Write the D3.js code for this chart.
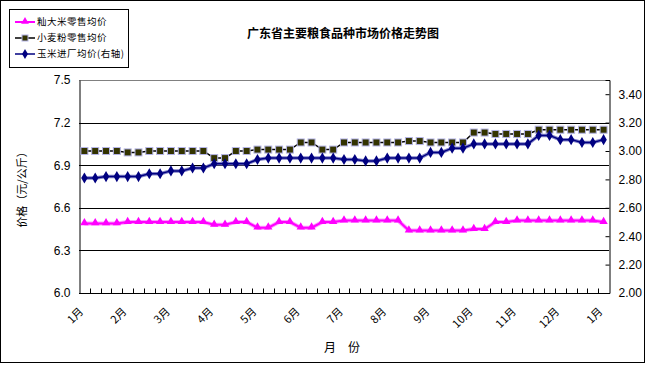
<!DOCTYPE html>
<html><head><meta charset="utf-8">
<script src="https://cdn.jsdelivr.net/npm/d3@7"></script>
<style>body{margin:0;background:#fff}svg{display:block}</style>
</head><body>
<svg id="c" width="649" height="365"></svg>
<script>
// ---- data ----
const monthLabels = ["1月","2月","3月","4月","5月","6月","7月","8月","9月","10月","11月","12月","1月"];
const rice = [6.49,6.49,6.49,6.49, 6.50,6.50,6.50,6.50,6.50,6.50,6.50,6.50, 6.48,6.48, 6.50,6.50, 6.46,6.46, 6.50,6.50, 6.46,6.46, 6.50,6.50,
  6.51,6.51,6.51,6.51,6.51,6.51, 6.44,6.44,6.44,6.44,6.44,6.44, 6.45,6.45, 6.50,6.50, 6.51,6.51,6.51,6.51,6.51,6.51,6.51,6.51, 6.50];
const flour = [7.00,7.00,7.00,7.00, 6.99,6.99, 7.00,7.00,7.00,7.00,7.00,7.00, 6.95,6.95, 7.00,7.00, 7.01,7.01,7.01,7.01, 7.06,7.06, 7.01,7.01,
  7.06,7.06,7.06,7.06,7.06,7.06, 7.07,7.07, 7.06,7.06,7.06,7.06, 7.13,7.13, 7.12,7.12,7.12,7.12, 7.15,7.15,7.15,7.15,7.15,7.15,7.15];
const corn = [2.81,2.81, 2.82,2.82,2.82,2.82, 2.84,2.84, 2.86,2.86, 2.88,2.88, 2.91,2.91,2.91,2.91, 2.94, 2.95,2.95,2.95,2.95,2.95,2.95,2.95,
  2.94,2.94, 2.93,2.93, 2.95,2.95,2.95,2.95, 2.99,2.99, 3.02,3.02, 3.05,3.05,3.05,3.05,3.05,3.05, 3.11,3.11, 3.08,3.08, 3.06,3.06, 3.08];
const leftTicks = [6.0,6.3,6.6,6.9,7.2,7.5];
const rightTicks = [2.0,2.2,2.4,2.6,2.8,3.0,3.2,3.4];
const seriesNames = ["籼大米零售均价","小麦粉零售均价","玉米进厂均价(右轴)"];
const chartTitle = "广东省主要粮食品种市场价格走势图";
const yTitle = "价格（元/公斤）";
const xTitle = "月　份";

// ---- layout ----
const L = 79, R = 609, T = 80, B = 293;
const svg = d3.select("#c");
const FONT = "'Noto Sans CJK SC','Liberation Sans',sans-serif";
const idx = d3.range(rice.length);
const x = d3.scaleBand().domain(idx).range([L, R]).padding(0);
const cx = i => x(i) + x.bandwidth() / 2;
const yL = d3.scaleLinear().domain([6.0, 7.5]).range([B, T]);
const yR = d3.scaleLinear().domain([2.0, 3.5]).range([B, T]);

// outer frame
svg.append("rect").attr("x", 0.5).attr("y", 0.5).attr("width", 644).attr("height", 362)
  .attr("fill", "#fff").attr("stroke", "#000").attr("stroke-width", 1);

// gridlines
svg.append("g").selectAll("line").data(leftTicks.filter(v => v > 6.0))
  .join("line")
  .attr("x1", L).attr("x2", R)
  .attr("y1", d => Math.round(yL(d)) + 0.5).attr("y2", d => Math.round(yL(d)) + 0.5)
  .attr("stroke", d => d === 7.5 ? "#808080" : "#000").attr("stroke-width", 1);

// left axis (labels only + line)
const gL = svg.append("g").attr("transform", `translate(${L + 0.5},0)`)
  .call(d3.axisLeft(yL).tickValues(leftTicks).tickFormat(d3.format(".1f")).tickSize(0).tickPadding(9));
gL.select(".domain").attr("stroke", "#000");
gL.selectAll("text").attr("font-family", "'Liberation Sans',sans-serif").attr("font-size", 12).attr("fill", "#000");

// right axis
const gR = svg.append("g").attr("transform", `translate(${R + 0.5},0)`)
  .call(d3.axisRight(yR).tickValues(rightTicks).tickFormat(d3.format(".2f")).tickSize(-4).tickPadding(9));
gR.select(".domain").attr("stroke", "#000");
gR.selectAll("line").attr("stroke", "#000");
gR.selectAll("text").attr("font-family", "'Liberation Sans',sans-serif").attr("font-size", 12).attr("fill", "#000");

// bottom axis: ticks at band boundaries pointing up
const gB = svg.append("g").attr("transform", `translate(0,${B + 0.5})`);
gB.append("line").attr("x1", L).attr("x2", R + 1).attr("stroke", "#000");
gB.selectAll("line.tk").data(idx.slice(1)).join("line").attr("class", "tk")
  .attr("x1", d => Math.round(x(d)) + 0.5).attr("x2", d => Math.round(x(d)) + 0.5)
  .attr("y1", 0).attr("y2", -5).attr("stroke", "#000");
// month labels every 4 categories
gB.selectAll("text").data(monthLabels).join("text")
  .attr("transform", (d, k) => `translate(${cx(k * 4) - 3},${16}) rotate(-45)`)
  .attr("text-anchor", "end").attr("dy", "0.35em")
  .attr("font-family", FONT).attr("font-size", 11).attr("fill", "#000")
  .text(d => d);

// series
const lineL = d3.line().x((d, i) => cx(i)).y(d => yL(d));
const lineR = d3.line().x((d, i) => cx(i)).y(d => yR(d));

// rice
svg.append("path").attr("d", lineL(rice)).attr("fill", "none").attr("stroke", "#ff99ff").attr("stroke-width", 4);
svg.append("path").attr("d", lineL(rice)).attr("fill", "none").attr("stroke", "#ff00ff").attr("stroke-width", 2);
svg.append("g").selectAll("path").data(rice).join("path")
  .attr("d", d3.symbol(d3.symbolTriangle, 30)())
  .attr("transform", (d, i) => `translate(${cx(i)},${yL(d) - 0.5})`)
  .attr("fill", "#ff00ff");

// flour
svg.append("path").attr("d", lineL(flour)).attr("fill", "none").attr("stroke", "#000").attr("stroke-width", 1.5);
svg.append("g").selectAll("rect").data(flour).join("rect")
  .attr("x", (d, i) => cx(i) - 3.5).attr("y", d => yL(d) - 3.5)
  .attr("width", 7).attr("height", 7)
  .attr("fill", "#333300").attr("stroke", "#b4b4e6").attr("stroke-width", 1);

// corn
svg.append("path").attr("d", lineR(corn)).attr("fill", "none").attr("stroke", "#8080c8").attr("stroke-width", 3.5);
svg.append("path").attr("d", lineR(corn)).attr("fill", "none").attr("stroke", "#000080").attr("stroke-width", 1.5);
svg.append("g").selectAll("path").data(corn).join("path")
  .attr("d", d3.symbol(d3.symbolDiamond, 36)())
  .attr("transform", (d, i) => `translate(${cx(i)},${yR(d)})`)
  .attr("fill", "#000080");

// title
svg.append("text").attr("x", 343).attr("y", 38).attr("text-anchor", "middle")
  .attr("font-family", FONT).attr("font-size", 12).attr("font-weight", "bold").attr("fill", "#000")
  .text(chartTitle);

// y title
svg.append("text").attr("transform", "translate(26,187) rotate(-90)").attr("text-anchor", "middle")
  .attr("font-family", FONT).attr("font-size", 11).attr("fill", "#000").text(yTitle);

// x title
svg.append("text").attr("x", 342).attr("y", 352).attr("text-anchor", "middle")
  .attr("font-family", FONT).attr("font-size", 12).attr("fill", "#000").text(xTitle);

// legend
const lg = svg.append("g");
lg.append("rect").attr("x", 9.5).attr("y", 9.5).attr("width", 119).attr("height", 58)
  .attr("fill", "#fff").attr("stroke", "#000");
const rows = [22, 38, 54];
// rice
lg.append("line").attr("x1", 15).attr("x2", 35).attr("y1", rows[0]).attr("y2", rows[0]).attr("stroke", "#ff00ff").attr("stroke-width", 2);
lg.append("path").attr("d", d3.symbol(d3.symbolTriangle, 26)()).attr("transform", `translate(25,${rows[0] - 0.5})`).attr("fill", "#ff00ff");
// flour
lg.append("line").attr("x1", 15).attr("x2", 35).attr("y1", rows[1]).attr("y2", rows[1]).attr("stroke", "#000").attr("stroke-width", 1.5);
lg.append("rect").attr("x", 22).attr("y", rows[1] - 3).attr("width", 6).attr("height", 6).attr("fill", "#333300").attr("stroke", "#b4b4e6");
// corn
lg.append("line").attr("x1", 15).attr("x2", 35).attr("y1", rows[2]).attr("y2", rows[2]).attr("stroke", "#000080").attr("stroke-width", 1.5);
lg.append("path").attr("d", d3.symbol(d3.symbolDiamond, 30)()).attr("transform", `translate(25,${rows[2]})`).attr("fill", "#000080");
lg.selectAll("text").data(seriesNames).join("text")
  .attr("x", 37).attr("y", (d, i) => rows[i]).attr("dy", "0.35em")
  .attr("font-family", FONT).attr("font-size", 9.5).attr("letter-spacing", 0.5).attr("fill", "#000")
  .text(d => d);
</script>
</body></html>
